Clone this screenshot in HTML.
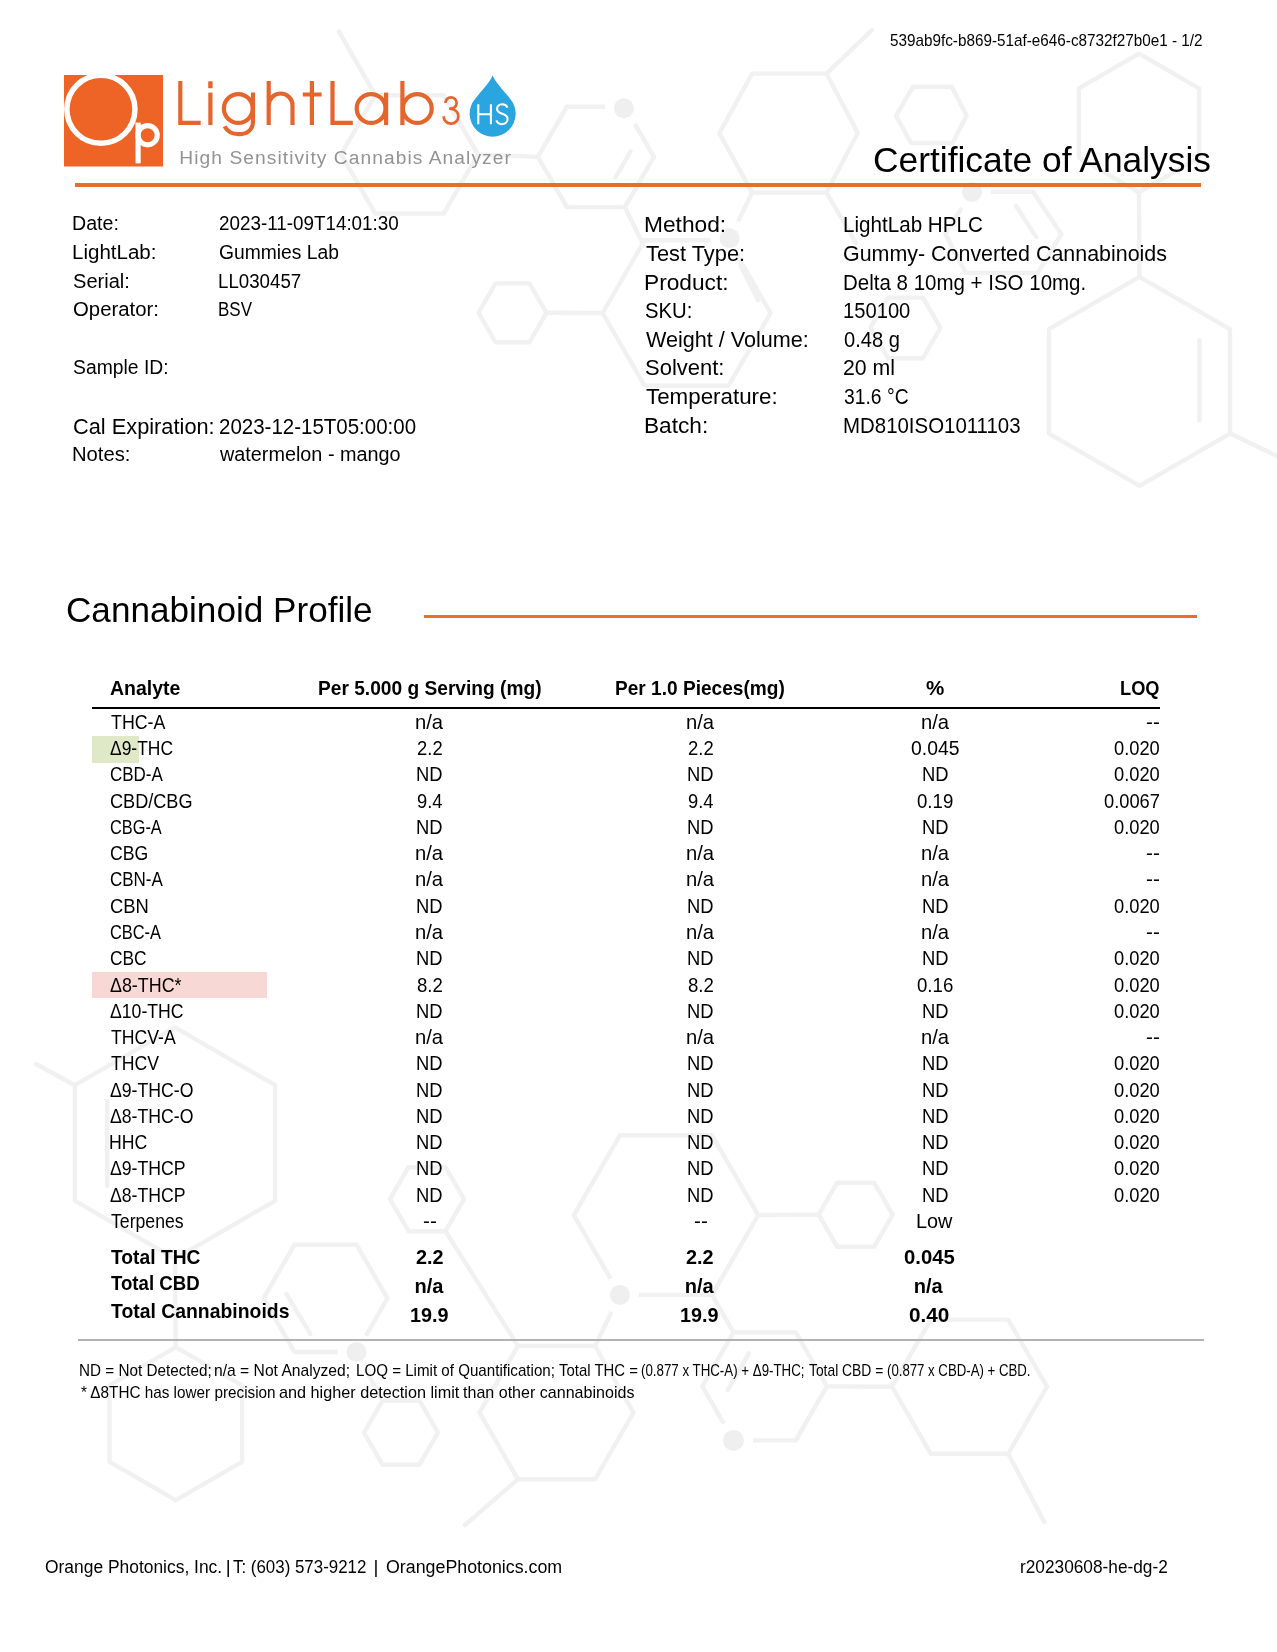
<!DOCTYPE html>
<html><head><meta charset="utf-8"><style>
html,body{margin:0;padding:0;background:#fff;}
body{width:1277px;height:1652px;position:relative;overflow:hidden;font-family:"Liberation Sans",sans-serif;color:#000;}
.m{display:inline-block;width:0;height:0;}
.t{position:absolute;white-space:pre;line-height:1;transform-origin:0 0;filter:grayscale(1);}
svg{position:absolute;left:0;top:0;}
</style></head><body>
<svg width="1277" height="1652" viewBox="0 0 1277 1652">
<g fill="none" stroke="#f1f1f1" stroke-width="4.4" stroke-linejoin="round" stroke-linecap="round">
<polygon points="719.4,133.1 752.1,73.6 826.5,73.6 857.8,133.1 826.5,192.6 752.1,192.6"/>
<polygon points="537.9,156.9 566.9,106.7 624.9,106.7 653.9,156.9 624.9,207.1 566.9,207.1"/>
<polygon points="341.1,154.4 375.3,95.2 443.7,95.2 477.9,154.4 443.7,213.6 375.3,213.6"/>
<polygon points="896.1,115.7 913.0,86.8 951.8,86.8 966.6,115.7 952.5,143.0 911.0,143.0"/>
<polygon points="1139.0,53.6 1199.1,88.3 1199.1,157.7 1139.0,192.4 1078.9,157.7 1078.9,88.3"/>
<polygon points="1139.5,276.8 1230.0,329.1 1230.0,433.6 1139.5,485.8 1049.0,433.6 1049.0,329.1"/>
<polygon points="870.4,327.9 887.9,297.6 922.9,297.6 940.4,327.9 922.9,358.2 887.9,358.2"/>
<polygon points="945.4,234.0 972.0,191.7 1033.0,191.7 1061.3,234.0 1037.8,273.0 965.8,273.0"/>
<polygon points="478.5,312.8 495.5,283.4 529.5,283.4 546.5,312.8 529.5,342.2 495.5,342.2"/>
<polygon points="602.6,313.0 644.6,240.3 728.6,240.3 770.6,313.0 728.6,385.7 644.6,385.7"/>
<polygon points="175.0,1027.4 275.1,1085.2 275.1,1200.8 175.0,1258.6 74.9,1200.8 74.9,1085.2"/>
<polygon points="175.8,1347.1 242.1,1385.3 242.1,1461.8 175.8,1500.1 109.5,1461.8 109.5,1385.3"/>
<polygon points="263.5,1298.3 294.5,1244.6 356.5,1244.6 387.5,1298.3 356.5,1352.0 294.5,1352.0"/>
<polygon points="390.0,1199.2 408.5,1167.2 445.5,1167.2 464.0,1199.2 445.5,1231.2 408.5,1231.2"/>
<polygon points="364.0,1432.7 382.5,1400.7 419.5,1400.7 438.0,1432.7 419.5,1464.7 382.5,1464.7"/>
<polygon points="479.5,1412.6 518.0,1345.9 595.0,1345.9 633.5,1412.6 595.0,1479.3 518.0,1479.3"/>
<polygon points="573.8,1215.1 619.9,1135.3 712.1,1135.3 758.2,1215.1 712.1,1294.9 619.9,1294.9"/>
<polygon points="818.7,1214.7 837.2,1182.7 874.2,1182.7 892.7,1214.7 874.2,1246.7 837.2,1246.7"/>
<polygon points="702.3,1386.4 733.5,1332.4 795.8,1332.4 826.9,1386.4 795.8,1440.4 733.5,1440.4"/>
<polygon points="892.0,1386.7 930.8,1319.6 1008.2,1319.6 1047.0,1386.7 1008.2,1453.8 930.8,1453.8"/>
<path d="M826.5 73.6L872.0 30.0"/>
<path d="M826.5 192.6L856.0 243.0"/>
<path d="M752.1 192.6L730.0 238.0"/>
<path d="M630.5 151.5L615.5 177.5"/>
<path d="M624.9 207.1L642.0 242.0"/>
<path d="M375.3 95.2L338.8 31.3"/>
<path d="M477.9 154.4L537.9 156.9"/>
<path d="M1139.0 192.4L1139.5 276.8"/>
<path d="M1199.5 340.3L1199.5 420.6"/>
<path d="M1230.0 433.6L1290.0 462.0"/>
<path d="M1015.9 205.8L1036.3 237.1"/>
<path d="M546.5 312.8L602.6 313.0"/>
<path d="M740.5 265.2L758.0 300.3"/>
<path d="M107.2 1100.8L107.2 1186.0"/>
<path d="M74.9 1085.2L36.0 1064.0"/>
<path d="M175.0 1258.6L175.8 1347.1"/>
<path d="M286.3 1293.9L310.3 1333.8"/>
<path d="M382.5 1400.7L356.5 1352.0"/>
<path d="M445.5 1231.2L518.0 1345.9"/>
<path d="M518.0 1479.3L465.0 1525.0"/>
<path d="M595.0 1345.9L619.9 1294.9"/>
<path d="M758.2 1215.1L818.7 1214.7"/>
<path d="M749.0 1353.3L727.9 1390.0"/>
<path d="M733.5 1332.4L712.1 1294.9"/>
<path d="M826.9 1386.4L892.0 1386.7"/>
<path d="M1008.2 1453.8L1044.3 1521.9"/>
</g>
<g fill="#efefef">
<circle cx="623.9" cy="108.3" r="10" stroke="#fff" stroke-width="18" paint-order="stroke"/>
<circle cx="972.0" cy="192.0" r="10" stroke="#fff" stroke-width="18" paint-order="stroke"/>
<circle cx="729.6" cy="238.3" r="10" stroke="#fff" stroke-width="18" paint-order="stroke"/>
<circle cx="356.5" cy="1352.0" r="10" stroke="#fff" stroke-width="18" paint-order="stroke"/>
<circle cx="619.9" cy="1294.9" r="10" stroke="#fff" stroke-width="18" paint-order="stroke"/>
<circle cx="733.5" cy="1440.4" r="10.5" stroke="#fff" stroke-width="18" paint-order="stroke"/>
</g></svg>
<svg width="1277" height="200" viewBox="0 0 1277 200">
<rect x="64" y="75" width="99" height="91.5" fill="#EE6426"/>
<circle cx="100.9" cy="109.3" r="34.05" fill="none" stroke="#fff" stroke-width="5.5"/>
<g fill="none" stroke="#fff" stroke-width="5.2">
<path d="M138.1 122.6 V163.4"/>
<circle cx="147.6" cy="135.2" r="9.6"/>
</g>
<g fill="none" stroke="#E5652C" stroke-width="4.2" stroke-linejoin="miter">
<path d="M180.3 81 V122.9 H200.7"/>
<path d="M210.4 92.6 V125.1"/>
<circle cx="238.3" cy="108.5" r="14.4"/>
<path d="M253 92.6 V121 C253 130 247 134.2 239 134.2 C231.5 134.2 227 131 224.6 126.4"/>
<path d="M268.7 81 V125.1 M268.7 105.4 A11.9 11.9 0 0 1 292.5 105.4 V125.1"/>
<path d="M311.9 81 V125.1 M302.8 94.5 H321.6"/>
<path d="M332.5 81 V122.9 H352.8"/>
<circle cx="371.1" cy="108.5" r="14.4"/>
<path d="M386.1 92.6 V125.1"/>
<path d="M402.4 81 V125.1"/>
<circle cx="417.3" cy="108.5" r="14.4"/>
</g>
<rect x="208.2" y="81.3" width="4.4" height="6.9" fill="#E5652C"/>
<path d="M445.4,103 A5.6,5.6 0 0 1 456.6,103 A5.6,5.6 0 0 1 451,108.6 H449.2 M451,109 A7.4,7.3 0 1 1 443.6,116.3" fill="none" stroke="#E5652C" stroke-width="2.7"/>
<path d="M492.65,75.3 C494.5,81 502.6,89.7 510.3,98.9 A23,23 0 1 1 475,98.9 C482.7,89.7 490.8,81 492.65,75.3 Z" fill="#2AA5DF"/>
<g fill="none" stroke="#fff" stroke-width="2.1">
<path d="M478.3 104.2 V124.2 M490.9 104.2 V124.2 M478.3 114.3 H490.9"/>
<path d="M507.5,107.6 C506.6,105.4 504.6,104.3 502.2,104.3 C499.2,104.3 497.1,106.3 497.1,108.9 C497.1,111.6 499.5,112.8 502.3,113.8 C505.5,114.9 507.6,116.4 507.6,119.1 C507.6,122.1 505.2,124.1 502,124.1 C499.3,124.1 497.3,122.7 496.3,120.3"/>
</g>
</svg>

<div class="t" style="left:179.37px;top:148.00px;font-size:19.19px;letter-spacing:1.06px;color:#939393;">High Sensitivity Cannabis Analyzer</div>
<div class="t" style="left:889.89px;top:33.01px;font-size:15.70px;transform:scaleX(0.9739);">539ab9fc-b869-51af-e646-c8732f27b0e1 - 1/2</div>
<div class="t" style="left:873.23px;top:143.00px;font-size:35.61px;transform:scaleX(0.9929);">Certificate of Analysis</div>
<div style="position:absolute;left:75px;top:183px;width:1126px;height:4px;background:#E96D2C;"></div>
<div class="t" style="left:72.23px;top:214.01px;font-size:19.91px;transform:scaleX(0.9840);">Date:</div>
<div class="t" style="left:218.66px;top:214.01px;font-size:19.91px;transform:scaleX(0.9460);">2023-11-09T14:01:30</div>
<div class="t" style="left:72.16px;top:243.01px;font-size:19.91px;transform:scaleX(1.0311);">LightLab:</div>
<div class="t" style="left:218.64px;top:243.01px;font-size:19.91px;transform:scaleX(0.9675);">Gummies Lab</div>
<div class="t" style="left:72.90px;top:272.00px;font-size:19.91px;transform:scaleX(1.0081);">Serial:</div>
<div class="t" style="left:218.10px;top:272.00px;font-size:19.91px;transform:scaleX(0.9394);">LL030457</div>
<div class="t" style="left:72.88px;top:300.01px;font-size:19.91px;transform:scaleX(1.0216);">Operator:</div>
<div class="t" style="left:218.24px;top:300.01px;font-size:19.91px;transform:scaleX(0.8527);">BSV</div>
<div class="t" style="left:72.93px;top:358.01px;font-size:19.91px;transform:scaleX(0.9710);">Sample ID:</div>
<div class="t" style="left:72.71px;top:417.01px;font-size:21.37px;transform:scaleX(1.0199);">Cal Expiration:</div>
<div class="t" style="left:218.58px;top:417.01px;font-size:21.37px;transform:scaleX(0.9591);">2023-12-15T05:00:00</div>
<div class="t" style="left:72.18px;top:445.01px;font-size:19.91px;transform:scaleX(1.0155);">Notes:</div>
<div class="t" style="left:219.70px;top:445.01px;font-size:19.91px;transform:scaleX(0.9950);">watermelon - mango</div>
<div class="t" style="left:644.38px;top:214.01px;font-size:21.22px;transform:scaleX(1.0710);">Method:</div>
<div class="t" style="left:842.55px;top:214.01px;font-size:21.22px;transform:scaleX(0.9715);">LightLab HPLC</div>
<div class="t" style="left:645.76px;top:243.02px;font-size:21.22px;transform:scaleX(1.0286);">Test Type:</div>
<div class="t" style="left:843.13px;top:243.02px;font-size:21.22px;transform:scaleX(1.0099);">Gummy- Converted Cannabinoids</div>
<div class="t" style="left:644.38px;top:272.01px;font-size:21.22px;transform:scaleX(1.0697);">Product:</div>
<div class="t" style="left:842.56px;top:272.01px;font-size:21.22px;transform:scaleX(0.9658);">Delta 8 10mg + ISO 10mg.</div>
<div class="t" style="left:645.29px;top:300.02px;font-size:21.22px;transform:scaleX(0.9575);">SKU:</div>
<div class="t" style="left:842.69px;top:300.02px;font-size:21.22px;transform:scaleX(0.9512);">150100</div>
<div class="t" style="left:646.20px;top:329.01px;font-size:21.22px;transform:scaleX(1.0177);">Weight / Volume:</div>
<div class="t" style="left:843.50px;top:329.01px;font-size:21.22px;transform:scaleX(0.9477);">0.48 g</div>
<div class="t" style="left:645.21px;top:357.02px;font-size:21.22px;transform:scaleX(1.0359);">Solvent:</div>
<div class="t" style="left:843.14px;top:357.02px;font-size:21.22px;transform:scaleX(1.0030);">20 ml</div>
<div class="t" style="left:645.75px;top:386.01px;font-size:21.22px;transform:scaleX(1.0532);">Temperature:</div>
<div class="t" style="left:843.52px;top:386.01px;font-size:21.22px;transform:scaleX(0.9094);">31.6 °C</div>
<div class="t" style="left:644.39px;top:415.01px;font-size:21.22px;transform:scaleX(1.0680);">Batch:</div>
<div class="t" style="left:842.57px;top:415.01px;font-size:21.22px;transform:scaleX(0.9628);">MD810ISO1011103</div>
<div class="t" style="left:66.14px;top:593.00px;font-size:34.88px;transform:scaleX(1.0072);">Cannabinoid Profile</div>
<div style="position:absolute;left:424px;top:614.5px;width:773px;height:3px;background:#E96D2C;"></div>
<div class="t" style="left:110.21px;top:678.00px;font-size:20.06px;font-weight:bold;transform:scaleX(0.9719);">Analyte</div>
<div class="t" style="left:317.75px;top:678.00px;font-size:20.06px;font-weight:bold;transform:scaleX(0.9553);">Per 5.000 g Serving (mg)</div>
<div class="t" style="left:615.46px;top:678.00px;font-size:20.06px;font-weight:bold;transform:scaleX(0.9522);">Per 1.0 Pieces(mg)</div>
<div class="t" style="left:926.39px;top:678.00px;font-size:20.06px;font-weight:bold;transform:scaleX(1.0266);">%</div>
<div class="t" style="left:1120.11px;top:678.00px;font-size:20.06px;font-weight:bold;transform:scaleX(0.9102);">LOQ</div>
<div style="position:absolute;left:92px;top:706.7px;width:1068px;height:2px;background:#000;"></div>
<div style="position:absolute;left:92px;top:736.3px;width:46.8px;height:26.3px;background:#DFE9C8;"></div>
<div style="position:absolute;left:92px;top:971.7px;width:175px;height:26.3px;background:#F7D8D4;"></div>
<div class="t" style="left:110.54px;top:713.01px;font-size:19.62px;transform:scaleX(0.9084);">THC-A</div>
<div class="t" style="left:415.04px;top:713.01px;font-size:19.62px;transform:scaleX(1.0308);">n/a</div>
<div class="t" style="left:685.94px;top:713.01px;font-size:19.62px;transform:scaleX(1.0308);">n/a</div>
<div class="t" style="left:920.54px;top:713.01px;font-size:19.62px;transform:scaleX(1.0308);">n/a</div>
<div class="t" style="left:1146.07px;top:713.01px;font-size:19.62px;transform:scaleX(1.0541);">--</div>
<div class="t" style="left:110.46px;top:739.01px;font-size:19.62px;transform:scaleX(0.8901);">Δ9-THC</div>
<div class="t" style="left:416.93px;top:739.01px;font-size:19.62px;transform:scaleX(0.9406);">2.2</div>
<div class="t" style="left:687.83px;top:739.01px;font-size:19.62px;transform:scaleX(0.9406);">2.2</div>
<div class="t" style="left:911.12px;top:739.01px;font-size:19.62px;transform:scaleX(0.9877);">0.045</div>
<div class="t" style="left:1113.86px;top:739.01px;font-size:19.62px;transform:scaleX(0.9333);">0.020</div>
<div class="t" style="left:110.05px;top:765.00px;font-size:19.62px;transform:scaleX(0.8660);">CBD-A</div>
<div class="t" style="left:416.23px;top:765.00px;font-size:19.62px;transform:scaleX(0.9379);">ND</div>
<div class="t" style="left:687.13px;top:765.00px;font-size:19.62px;transform:scaleX(0.9379);">ND</div>
<div class="t" style="left:921.73px;top:765.00px;font-size:19.62px;transform:scaleX(0.9379);">ND</div>
<div class="t" style="left:1113.86px;top:765.00px;font-size:19.62px;transform:scaleX(0.9333);">0.020</div>
<div class="t" style="left:109.99px;top:792.01px;font-size:19.62px;transform:scaleX(0.9239);">CBD/CBG</div>
<div class="t" style="left:416.88px;top:792.01px;font-size:19.62px;transform:scaleX(0.9343);">9.4</div>
<div class="t" style="left:687.78px;top:792.01px;font-size:19.62px;transform:scaleX(0.9343);">9.4</div>
<div class="t" style="left:917.26px;top:792.01px;font-size:19.62px;transform:scaleX(0.9500);">0.19</div>
<div class="t" style="left:1103.86px;top:792.01px;font-size:19.62px;transform:scaleX(0.9320);">0.0067</div>
<div class="t" style="left:110.08px;top:818.00px;font-size:19.62px;transform:scaleX(0.8327);">CBG-A</div>
<div class="t" style="left:416.23px;top:818.00px;font-size:19.62px;transform:scaleX(0.9379);">ND</div>
<div class="t" style="left:687.13px;top:818.00px;font-size:19.62px;transform:scaleX(0.9379);">ND</div>
<div class="t" style="left:921.73px;top:818.00px;font-size:19.62px;transform:scaleX(0.9379);">ND</div>
<div class="t" style="left:1113.86px;top:818.00px;font-size:19.62px;transform:scaleX(0.9333);">0.020</div>
<div class="t" style="left:110.02px;top:844.00px;font-size:19.62px;transform:scaleX(0.8996);">CBG</div>
<div class="t" style="left:415.04px;top:844.00px;font-size:19.62px;transform:scaleX(1.0308);">n/a</div>
<div class="t" style="left:685.94px;top:844.00px;font-size:19.62px;transform:scaleX(1.0308);">n/a</div>
<div class="t" style="left:920.54px;top:844.00px;font-size:19.62px;transform:scaleX(1.0308);">n/a</div>
<div class="t" style="left:1146.07px;top:844.00px;font-size:19.62px;transform:scaleX(1.0541);">--</div>
<div class="t" style="left:110.05px;top:870.01px;font-size:19.62px;transform:scaleX(0.8660);">CBN-A</div>
<div class="t" style="left:415.04px;top:870.01px;font-size:19.62px;transform:scaleX(1.0308);">n/a</div>
<div class="t" style="left:685.94px;top:870.01px;font-size:19.62px;transform:scaleX(1.0308);">n/a</div>
<div class="t" style="left:920.54px;top:870.01px;font-size:19.62px;transform:scaleX(1.0308);">n/a</div>
<div class="t" style="left:1146.07px;top:870.01px;font-size:19.62px;transform:scaleX(1.0541);">--</div>
<div class="t" style="left:109.98px;top:897.00px;font-size:19.62px;transform:scaleX(0.9371);">CBN</div>
<div class="t" style="left:416.23px;top:897.00px;font-size:19.62px;transform:scaleX(0.9379);">ND</div>
<div class="t" style="left:687.13px;top:897.00px;font-size:19.62px;transform:scaleX(0.9379);">ND</div>
<div class="t" style="left:921.73px;top:897.00px;font-size:19.62px;transform:scaleX(0.9379);">ND</div>
<div class="t" style="left:1113.86px;top:897.00px;font-size:19.62px;transform:scaleX(0.9333);">0.020</div>
<div class="t" style="left:110.08px;top:923.00px;font-size:19.62px;transform:scaleX(0.8361);">CBC-A</div>
<div class="t" style="left:415.04px;top:923.00px;font-size:19.62px;transform:scaleX(1.0308);">n/a</div>
<div class="t" style="left:685.94px;top:923.00px;font-size:19.62px;transform:scaleX(1.0308);">n/a</div>
<div class="t" style="left:920.54px;top:923.00px;font-size:19.62px;transform:scaleX(1.0308);">n/a</div>
<div class="t" style="left:1146.07px;top:923.00px;font-size:19.62px;transform:scaleX(1.0541);">--</div>
<div class="t" style="left:110.03px;top:949.01px;font-size:19.62px;transform:scaleX(0.8834);">CBC</div>
<div class="t" style="left:416.23px;top:949.01px;font-size:19.62px;transform:scaleX(0.9379);">ND</div>
<div class="t" style="left:687.13px;top:949.01px;font-size:19.62px;transform:scaleX(0.9379);">ND</div>
<div class="t" style="left:921.73px;top:949.01px;font-size:19.62px;transform:scaleX(0.9379);">ND</div>
<div class="t" style="left:1113.86px;top:949.01px;font-size:19.62px;transform:scaleX(0.9333);">0.020</div>
<div class="t" style="left:110.45px;top:976.00px;font-size:19.62px;transform:scaleX(0.9112);">Δ8-THC*</div>
<div class="t" style="left:416.89px;top:976.00px;font-size:19.62px;transform:scaleX(0.9500);">8.2</div>
<div class="t" style="left:687.79px;top:976.00px;font-size:19.62px;transform:scaleX(0.9500);">8.2</div>
<div class="t" style="left:917.22px;top:976.00px;font-size:19.62px;transform:scaleX(0.9500);">0.16</div>
<div class="t" style="left:1113.86px;top:976.00px;font-size:19.62px;transform:scaleX(0.9333);">0.020</div>
<div class="t" style="left:110.46px;top:1002.00px;font-size:19.62px;transform:scaleX(0.9000);">Δ10-THC</div>
<div class="t" style="left:416.23px;top:1002.00px;font-size:19.62px;transform:scaleX(0.9379);">ND</div>
<div class="t" style="left:687.13px;top:1002.00px;font-size:19.62px;transform:scaleX(0.9379);">ND</div>
<div class="t" style="left:921.73px;top:1002.00px;font-size:19.62px;transform:scaleX(0.9379);">ND</div>
<div class="t" style="left:1113.86px;top:1002.00px;font-size:19.62px;transform:scaleX(0.9333);">0.020</div>
<div class="t" style="left:110.55px;top:1028.01px;font-size:19.62px;transform:scaleX(0.9000);">THCV-A</div>
<div class="t" style="left:415.04px;top:1028.01px;font-size:19.62px;transform:scaleX(1.0308);">n/a</div>
<div class="t" style="left:685.94px;top:1028.01px;font-size:19.62px;transform:scaleX(1.0308);">n/a</div>
<div class="t" style="left:920.54px;top:1028.01px;font-size:19.62px;transform:scaleX(1.0308);">n/a</div>
<div class="t" style="left:1146.07px;top:1028.01px;font-size:19.62px;transform:scaleX(1.0541);">--</div>
<div class="t" style="left:110.55px;top:1054.00px;font-size:19.62px;transform:scaleX(0.9000);">THCV</div>
<div class="t" style="left:416.23px;top:1054.00px;font-size:19.62px;transform:scaleX(0.9379);">ND</div>
<div class="t" style="left:687.13px;top:1054.00px;font-size:19.62px;transform:scaleX(0.9379);">ND</div>
<div class="t" style="left:921.73px;top:1054.00px;font-size:19.62px;transform:scaleX(0.9379);">ND</div>
<div class="t" style="left:1113.86px;top:1054.00px;font-size:19.62px;transform:scaleX(0.9333);">0.020</div>
<div class="t" style="left:110.46px;top:1081.01px;font-size:19.62px;transform:scaleX(0.9000);">Δ9-THC-O</div>
<div class="t" style="left:416.23px;top:1081.01px;font-size:19.62px;transform:scaleX(0.9379);">ND</div>
<div class="t" style="left:687.13px;top:1081.01px;font-size:19.62px;transform:scaleX(0.9379);">ND</div>
<div class="t" style="left:921.73px;top:1081.01px;font-size:19.62px;transform:scaleX(0.9379);">ND</div>
<div class="t" style="left:1113.86px;top:1081.01px;font-size:19.62px;transform:scaleX(0.9333);">0.020</div>
<div class="t" style="left:110.46px;top:1107.00px;font-size:19.62px;transform:scaleX(0.9000);">Δ8-THC-O</div>
<div class="t" style="left:416.23px;top:1107.00px;font-size:19.62px;transform:scaleX(0.9379);">ND</div>
<div class="t" style="left:687.13px;top:1107.00px;font-size:19.62px;transform:scaleX(0.9379);">ND</div>
<div class="t" style="left:921.73px;top:1107.00px;font-size:19.62px;transform:scaleX(0.9379);">ND</div>
<div class="t" style="left:1113.86px;top:1107.00px;font-size:19.62px;transform:scaleX(0.9333);">0.020</div>
<div class="t" style="left:109.49px;top:1133.00px;font-size:19.62px;transform:scaleX(0.9000);">HHC</div>
<div class="t" style="left:416.23px;top:1133.00px;font-size:19.62px;transform:scaleX(0.9379);">ND</div>
<div class="t" style="left:687.13px;top:1133.00px;font-size:19.62px;transform:scaleX(0.9379);">ND</div>
<div class="t" style="left:921.73px;top:1133.00px;font-size:19.62px;transform:scaleX(0.9379);">ND</div>
<div class="t" style="left:1113.86px;top:1133.00px;font-size:19.62px;transform:scaleX(0.9333);">0.020</div>
<div class="t" style="left:110.46px;top:1159.01px;font-size:19.62px;transform:scaleX(0.9000);">Δ9-THCP</div>
<div class="t" style="left:416.23px;top:1159.01px;font-size:19.62px;transform:scaleX(0.9379);">ND</div>
<div class="t" style="left:687.13px;top:1159.01px;font-size:19.62px;transform:scaleX(0.9379);">ND</div>
<div class="t" style="left:921.73px;top:1159.01px;font-size:19.62px;transform:scaleX(0.9379);">ND</div>
<div class="t" style="left:1113.86px;top:1159.01px;font-size:19.62px;transform:scaleX(0.9333);">0.020</div>
<div class="t" style="left:110.46px;top:1186.00px;font-size:19.62px;transform:scaleX(0.9000);">Δ8-THCP</div>
<div class="t" style="left:416.23px;top:1186.00px;font-size:19.62px;transform:scaleX(0.9379);">ND</div>
<div class="t" style="left:687.13px;top:1186.00px;font-size:19.62px;transform:scaleX(0.9379);">ND</div>
<div class="t" style="left:921.73px;top:1186.00px;font-size:19.62px;transform:scaleX(0.9379);">ND</div>
<div class="t" style="left:1113.86px;top:1186.00px;font-size:19.62px;transform:scaleX(0.9333);">0.020</div>
<div class="t" style="left:110.55px;top:1212.00px;font-size:19.62px;transform:scaleX(0.9000);">Terpenes</div>
<div class="t" style="left:422.92px;top:1212.00px;font-size:19.62px;transform:scaleX(1.0541);">--</div>
<div class="t" style="left:693.82px;top:1212.00px;font-size:19.62px;transform:scaleX(1.0541);">--</div>
<div class="t" style="left:916.26px;top:1212.00px;font-size:19.62px;transform:scaleX(1.0135);">Low</div>
<div class="t" style="left:111.01px;top:1247.02px;font-size:20.64px;font-weight:bold;transform:scaleX(0.9333);">Total THC</div>
<div class="t" style="left:415.95px;top:1247.01px;font-size:20.06px;font-weight:bold;transform:scaleX(0.9896);">2.2</div>
<div class="t" style="left:686.15px;top:1247.01px;font-size:20.06px;font-weight:bold;transform:scaleX(0.9896);">2.2</div>
<div class="t" style="left:903.54px;top:1247.01px;font-size:20.06px;font-weight:bold;transform:scaleX(1.0114);">0.045</div>
<div class="t" style="left:111.01px;top:1273.02px;font-size:20.64px;font-weight:bold;transform:scaleX(0.9032);">Total CBD</div>
<div class="t" style="left:414.45px;top:1276.00px;font-size:20.06px;font-weight:bold;">n/a</div>
<div class="t" style="left:684.65px;top:1276.00px;font-size:20.06px;font-weight:bold;">n/a</div>
<div class="t" style="left:913.75px;top:1276.00px;font-size:20.06px;font-weight:bold;">n/a</div>
<div class="t" style="left:111.01px;top:1301.01px;font-size:20.64px;font-weight:bold;transform:scaleX(0.9399);">Total Cannabinoids</div>
<div class="t" style="left:410.16px;top:1305.00px;font-size:20.06px;font-weight:bold;transform:scaleX(0.9890);">19.9</div>
<div class="t" style="left:680.36px;top:1305.00px;font-size:20.06px;font-weight:bold;transform:scaleX(0.9890);">19.9</div>
<div class="t" style="left:908.82px;top:1305.00px;font-size:20.06px;font-weight:bold;transform:scaleX(1.0343);">0.40</div>
<div style="position:absolute;left:78px;top:1339px;width:1126px;height:2px;background:#B3B3B3;"></div>
<div class="t" style="left:79.48px;top:1363.00px;font-size:15.99px;transform:scaleX(0.9554);">ND = Not Detected;</div>
<div class="t" style="left:214.48px;top:1363.00px;font-size:15.99px;transform:scaleX(0.9788);">n/a = Not Analyzed;</div>
<div class="t" style="left:356.29px;top:1363.00px;font-size:15.99px;transform:scaleX(0.9467);">LOQ = Limit of Quantification;</div>
<div class="t" style="left:558.70px;top:1363.00px;font-size:15.99px;transform:scaleX(0.9334);">Total THC =</div>
<div class="t" style="left:640.80px;top:1363.00px;font-size:15.99px;transform:scaleX(0.8322);">(0.877 x THC-A) + Δ9-THC;</div>
<div class="t" style="left:808.92px;top:1363.00px;font-size:15.99px;transform:scaleX(0.8658);">Total CBD =</div>
<div class="t" style="left:886.71px;top:1363.00px;font-size:15.99px;transform:scaleX(0.8260);">(0.877 x CBD-A) + CBD.</div>
<div class="t" style="left:81.07px;top:1385.00px;font-size:15.99px;transform:scaleX(0.9563);">* Δ8THC has lower precision</div>
<div class="t" style="left:278.55px;top:1385.00px;font-size:15.99px;transform:scaleX(1.0143);">and higher detection limit</div>
<div class="t" style="left:463.06px;top:1385.00px;font-size:15.99px;transform:scaleX(1.0048);">than other cannabinoids</div>
<div class="t" style="left:45.12px;top:1558.00px;font-size:18.90px;transform:scaleX(0.9219);">Orange Photonics, Inc.</div>
<div class="t" style="left:233.06px;top:1558.00px;font-size:18.90px;transform:scaleX(0.8942);">T: (603) 573-9212</div>
<div class="t" style="left:385.70px;top:1558.00px;font-size:18.90px;transform:scaleX(0.9427);">OrangePhotonics.com</div>
<div class="t" style="left:225.64px;top:1558.00px;font-size:18.90px;">|</div>
<div class="t" style="left:373.54px;top:1558.00px;font-size:18.90px;">|</div>
<div class="t" style="left:1020.48px;top:1558.01px;font-size:18.31px;transform:scaleX(0.9434);">r20230608-he-dg-2</div>
</body></html>
